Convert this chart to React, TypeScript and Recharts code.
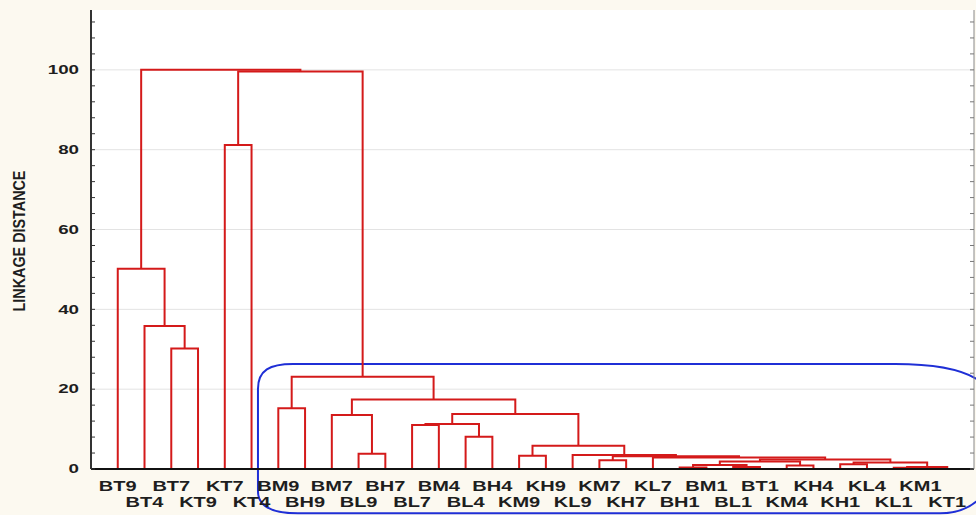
import React from 'react';
import { LineChart, Line, XAxis, YAxis, CartesianGrid, ReferenceArea } from 'recharts';

// Leaves of the dendrogram, in display order
const leafLabels = [
  'BT9', 'BT4', 'BT7', 'KT9', 'KT7', 'KT4', 'BM9', 'BH9', 'BM7', 'BL9', 'BH7', 'BL7',
  'BM4', 'BL4', 'BH4', 'KM9', 'KH9', 'KL9', 'KM7', 'KH7', 'KL7', 'BH1', 'BM1', 'BL1',
  'BT1', 'KM4', 'KH4', 'KH1', 'KL4', 'KL1', 'KM1', 'KT1',
];

// Linkage table: node ids 0..31 are leaves, merge k creates node 32 + k
const mergeLeft = [21, 23, 29, 34, 25, 32, 27, 38, 37, 18, 40, 20, 41, 15, 17, 9, 45, 13, 11, 50, 8, 51, 6, 52, 54, 2, 1, 0, 4, 60, 59];
const mergeRight = [22, 24, 30, 31, 26, 33, 28, 35, 36, 19, 39, 42, 43, 16, 44, 10, 46, 14, 12, 49, 47, 48, 7, 53, 55, 3, 57, 58, 5, 56, 61];
const mergeHeight = [0.4, 0.5, 0.3, 0.5, 0.9, 1.0, 1.2, 1.6, 1.9, 2.2, 2.4, 2.9, 3.2, 3.3, 3.5, 3.8, 5.8, 8.1, 11.0, 11.3, 13.5, 13.8, 15.2, 17.4, 23.1, 30.2, 35.8, 50.2, 81.2, 99.6, 100];

const yMinorTicks = [0, 4, 8, 12, 16, 20, 24, 28, 32, 36, 40, 44, 48, 52, 56, 60, 64, 68, 72, 76, 80, 84, 88, 92, 96, 100, 104, 108, 112];
const yLabelTicks = [0, 20, 40, 60, 80, 100];
const gridValues = [20, 40, 60, 80, 100];
const leafPositions = leafLabels.map((_, i) => i + 1);

// Highlighted group (blue outline), in data units
const groupBox = { x1: 6.24, x2: 33.6, y1: -11.1, y2: 26.3 };

const FONT = '"Liberation Sans", Arial, Helvetica, sans-serif';
const RED = '#d41a1a';
const BLUE = '#1f2fd6';

function buildLinks() {
  const xs: number[] = leafLabels.map((_, i) => i + 1);
  const hs: number[] = leafLabels.map(() => 0);
  const links: { x: number; y: number }[][] = [];
  mergeLeft.forEach((l, k) => {
    const r = mergeRight[k];
    const h = mergeHeight[k];
    links.push([
      { x: xs[l], y: hs[l] },
      { x: xs[l], y: h },
      { x: xs[r], y: h },
      { x: xs[r], y: hs[r] },
    ]);
    xs.push((xs[l] + xs[r]) / 2);
    hs.push(h);
  });
  return links;
}

const links = buildLinks();

const LeftTick = (props: any) => {
  const { x, y, payload } = props;
  const v = payload.value;
  return (
    <g>
      <line x1={x} x2={x + 4} y1={y} y2={y} stroke="#333" strokeWidth={1} />
      {yLabelTicks.includes(v) && (
        <text
          transform={`translate(${x - 12},${y}) scale(1.5,1)`}
          textAnchor="end"
          dominantBaseline="central"
          fontFamily={FONT}
          fontWeight="bold"
          fontSize={12.5}
          fill="#1e1e1e"
        >
          {v}
        </text>
      )}
    </g>
  );
};

const RightTick = (props: any) => {
  const { x, y } = props;
  return <line x1={x - 4} x2={x} y1={y} y2={y} stroke="#777" strokeWidth={1} />;
};

const TopTick = (props: any) => {
  const { x, y } = props;
  return <line x1={x} x2={x} y1={y} y2={y + 4} stroke="#777" strokeWidth={1} />;
};

const BottomTick = (props: any) => {
  const { x, y, payload } = props;
  const idx = Math.round(payload.value) - 1;
  const label = leafLabels[idx];
  if (!label) return null;
  const dy = idx % 2 === 0 ? 22 : 38;
  return (
    <text
      transform={`translate(${x},${y + dy}) scale(1.38,1)`}
      textAnchor="middle"
      fontFamily={FONT}
      fontWeight="bold"
      fontSize={14.5}
      fill="#1e1e1e"
    >
      {label}
    </text>
  );
};

const YTitle = () => (
  <text
    transform="translate(19.5,241) rotate(-90) scale(1.25,1.45)"
    textAnchor="middle"
    dominantBaseline="central"
    fontFamily={FONT}
    fontWeight="bold"
    fontSize={11.5}
    fill="#1e1e1e"
  >
    LINKAGE DISTANCE
  </text>
);

const GroupShape = (props: any) => {
  const { x, y, width, height } = props;
  const L = x;
  const T = y;
  const R = x + width;
  const B = y + height;
  const d = [
    `M ${L + 35} ${T}`,
    `L ${R - 95} ${T}`,
    `C ${R - 45} ${T} ${R - 12} ${T + 8} ${R} ${T + 28}`,
    `L ${R} ${B - 28}`,
    `C ${R - 12} ${B - 8} ${R - 30} ${B} ${R - 50} ${B}`,
    `L ${L + 40} ${B}`,
    `C ${L + 12} ${B} ${L} ${B - 8} ${L} ${B - 22}`,
    `L ${L} ${T + 25}`,
    `C ${L} ${T + 6} ${L + 12} ${T} ${L + 35} ${T}`,
    'Z',
  ].join(' ');
  return <path d={d} fill="none" stroke={BLUE} strokeWidth={2} />;
};

export default function App() {
  return (
    <div style={{ position: 'absolute', left: 0, top: 0, width: 976, height: 515, background: '#fcf9f0' }}>
      <LineChart width={976} height={515} margin={{ top: 10, right: 0, bottom: 0, left: 0 }}>
        <CartesianGrid
          horizontalValues={gridValues}
          vertical={false}
          stroke="#e3e3e3"
          strokeWidth={1}
          fill="#ffffff"
          fillOpacity={1}
        />
        <XAxis
          dataKey="x"
          type="number"
          domain={[0, 33]}
          allowDataOverflow
          ticks={leafPositions}
          interval={0}
          height={46}
          tickSize={0}
          tickMargin={0}
          tickLine={false}
          axisLine={{ stroke: '#111', strokeWidth: 2 }}
          tick={<BottomTick />}
        />
        <XAxis
          xAxisId="top"
          orientation="top"
          dataKey="x"
          type="number"
          domain={[0, 33]}
          allowDataOverflow
          ticks={leafPositions}
          interval={0}
          height={0}
          tickSize={0}
          tickMargin={0}
          tickLine={false}
          axisLine={{ stroke: '#888', strokeWidth: 1 }}
          tick={<TopTick />}
        />
        <YAxis
          type="number"
          domain={[0, 115]}
          allowDataOverflow
          ticks={yMinorTicks}
          interval={0}
          width={91}
          tickSize={0}
          tickMargin={0}
          tickLine={false}
          axisLine={{ stroke: '#333', strokeWidth: 2 }}
          tick={<LeftTick />}
          label={{ value: 'LINKAGE DISTANCE', content: () => <YTitle /> }}
        />
        <YAxis
          yAxisId="right"
          orientation="right"
          type="number"
          domain={[0, 115]}
          allowDataOverflow
          ticks={yMinorTicks}
          interval={0}
          width={2}
          tickSize={0}
          tickMargin={0}
          tickLine={false}
          axisLine={{ stroke: '#888', strokeWidth: 1 }}
          tick={<RightTick />}
        />
        {links.map((seg, i) => (
          <Line
            key={i}
            data={seg}
            dataKey="y"
            type="linear"
            stroke={RED}
            strokeWidth={2}
            dot={false}
            activeDot={false}
            isAnimationActive={false}
          />
        ))}
        <ReferenceArea
          x1={groupBox.x1}
          x2={groupBox.x2}
          y1={groupBox.y1}
          y2={groupBox.y2}
          ifOverflow="visible"
          shape={<GroupShape />}
        />
      </LineChart>
    </div>
  );
}
